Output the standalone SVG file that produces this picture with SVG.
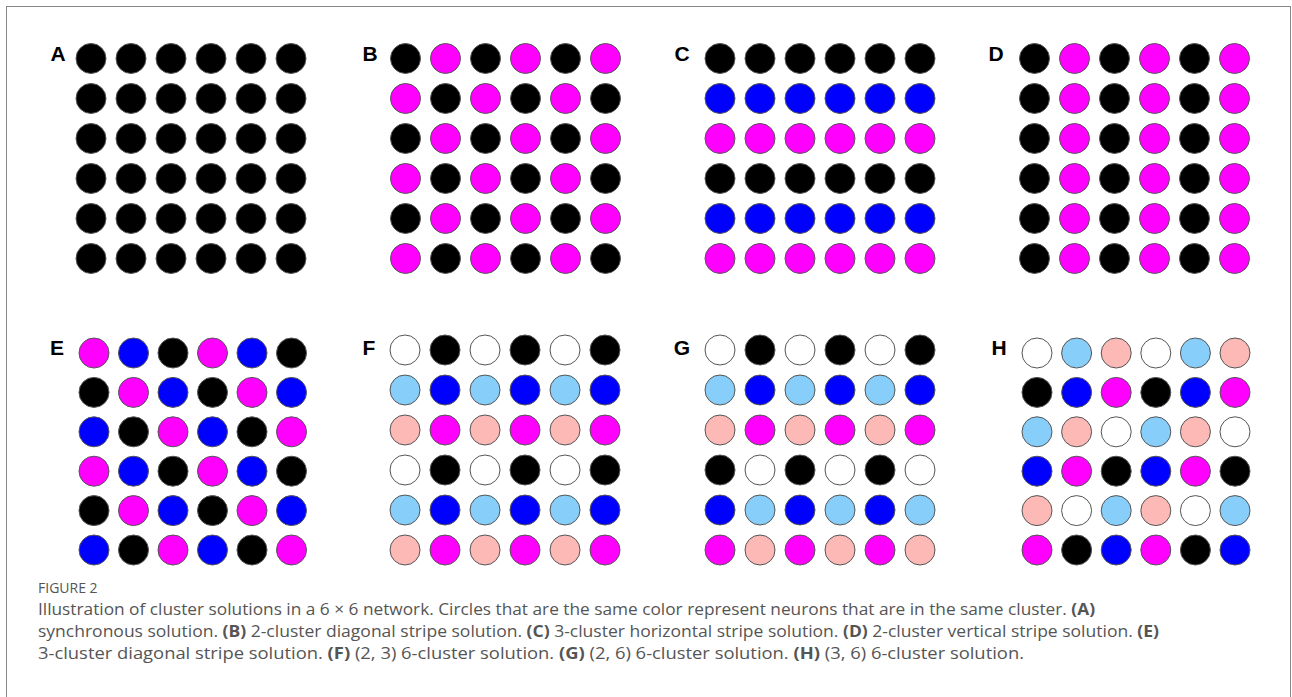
<svg xmlns="http://www.w3.org/2000/svg" width="1292" height="697" viewBox="0 0 1292 697">
<style>
circle{stroke:#555;stroke-width:1}
.k{fill:#000}.m{fill:#ff00ff}.b{fill:#0000ff}.l{fill:#87cefa}.p{fill:#fcb9b6}.w{fill:#fff}
.lab{font-family:"Liberation Sans",Arial,sans-serif;font-weight:bold;font-size:21px;fill:#000;text-anchor:middle}
.cap{font-family:"Open Sans","Liberation Sans",sans-serif;font-size:16px;fill:#555}
.fig{font-family:"Open Sans","Liberation Sans",sans-serif;font-size:14px;fill:#555}
.bd{font-weight:bold}
</style>
<rect x="0" y="0" width="1292" height="697" fill="#fff"/>
<rect x="6.5" y="6.5" width="1284" height="720" fill="none" stroke="#888" stroke-width="1"/>

<g id="panelA" transform="translate(91,58.5)">
<text class="lab" x="-33" y="0" dy="2">A</text>
<circle class="k" cx="0" cy="0" r="15"/><circle class="k" cx="40" cy="0" r="15"/><circle class="k" cx="80" cy="0" r="15"/><circle class="k" cx="120" cy="0" r="15"/><circle class="k" cx="160" cy="0" r="15"/><circle class="k" cx="200" cy="0" r="15"/>
<circle class="k" cx="0" cy="40" r="15"/><circle class="k" cx="40" cy="40" r="15"/><circle class="k" cx="80" cy="40" r="15"/><circle class="k" cx="120" cy="40" r="15"/><circle class="k" cx="160" cy="40" r="15"/><circle class="k" cx="200" cy="40" r="15"/>
<circle class="k" cx="0" cy="80" r="15"/><circle class="k" cx="40" cy="80" r="15"/><circle class="k" cx="80" cy="80" r="15"/><circle class="k" cx="120" cy="80" r="15"/><circle class="k" cx="160" cy="80" r="15"/><circle class="k" cx="200" cy="80" r="15"/>
<circle class="k" cx="0" cy="120" r="15"/><circle class="k" cx="40" cy="120" r="15"/><circle class="k" cx="80" cy="120" r="15"/><circle class="k" cx="120" cy="120" r="15"/><circle class="k" cx="160" cy="120" r="15"/><circle class="k" cx="200" cy="120" r="15"/>
<circle class="k" cx="0" cy="160" r="15"/><circle class="k" cx="40" cy="160" r="15"/><circle class="k" cx="80" cy="160" r="15"/><circle class="k" cx="120" cy="160" r="15"/><circle class="k" cx="160" cy="160" r="15"/><circle class="k" cx="200" cy="160" r="15"/>
<circle class="k" cx="0" cy="200" r="15"/><circle class="k" cx="40" cy="200" r="15"/><circle class="k" cx="80" cy="200" r="15"/><circle class="k" cx="120" cy="200" r="15"/><circle class="k" cx="160" cy="200" r="15"/><circle class="k" cx="200" cy="200" r="15"/>
</g>

<g id="panelB" transform="translate(405.5,58.5)">
<text class="lab" x="-35.5" y="0" dy="2">B</text>
<circle class="k" cx="0" cy="0" r="15"/><circle class="m" cx="40" cy="0" r="15"/><circle class="k" cx="80" cy="0" r="15"/><circle class="m" cx="120" cy="0" r="15"/><circle class="k" cx="160" cy="0" r="15"/><circle class="m" cx="200" cy="0" r="15"/>
<circle class="m" cx="0" cy="40" r="15"/><circle class="k" cx="40" cy="40" r="15"/><circle class="m" cx="80" cy="40" r="15"/><circle class="k" cx="120" cy="40" r="15"/><circle class="m" cx="160" cy="40" r="15"/><circle class="k" cx="200" cy="40" r="15"/>
<circle class="k" cx="0" cy="80" r="15"/><circle class="m" cx="40" cy="80" r="15"/><circle class="k" cx="80" cy="80" r="15"/><circle class="m" cx="120" cy="80" r="15"/><circle class="k" cx="160" cy="80" r="15"/><circle class="m" cx="200" cy="80" r="15"/>
<circle class="m" cx="0" cy="120" r="15"/><circle class="k" cx="40" cy="120" r="15"/><circle class="m" cx="80" cy="120" r="15"/><circle class="k" cx="120" cy="120" r="15"/><circle class="m" cx="160" cy="120" r="15"/><circle class="k" cx="200" cy="120" r="15"/>
<circle class="k" cx="0" cy="160" r="15"/><circle class="m" cx="40" cy="160" r="15"/><circle class="k" cx="80" cy="160" r="15"/><circle class="m" cx="120" cy="160" r="15"/><circle class="k" cx="160" cy="160" r="15"/><circle class="m" cx="200" cy="160" r="15"/>
<circle class="m" cx="0" cy="200" r="15"/><circle class="k" cx="40" cy="200" r="15"/><circle class="m" cx="80" cy="200" r="15"/><circle class="k" cx="120" cy="200" r="15"/><circle class="m" cx="160" cy="200" r="15"/><circle class="k" cx="200" cy="200" r="15"/>
</g>

<g id="panelC" transform="translate(720,58.5)">
<text class="lab" x="-38" y="0" dy="2">C</text>
<circle class="k" cx="0" cy="0" r="15"/><circle class="k" cx="40" cy="0" r="15"/><circle class="k" cx="80" cy="0" r="15"/><circle class="k" cx="120" cy="0" r="15"/><circle class="k" cx="160" cy="0" r="15"/><circle class="k" cx="200" cy="0" r="15"/>
<circle class="b" cx="0" cy="40" r="15"/><circle class="b" cx="40" cy="40" r="15"/><circle class="b" cx="80" cy="40" r="15"/><circle class="b" cx="120" cy="40" r="15"/><circle class="b" cx="160" cy="40" r="15"/><circle class="b" cx="200" cy="40" r="15"/>
<circle class="m" cx="0" cy="80" r="15"/><circle class="m" cx="40" cy="80" r="15"/><circle class="m" cx="80" cy="80" r="15"/><circle class="m" cx="120" cy="80" r="15"/><circle class="m" cx="160" cy="80" r="15"/><circle class="m" cx="200" cy="80" r="15"/>
<circle class="k" cx="0" cy="120" r="15"/><circle class="k" cx="40" cy="120" r="15"/><circle class="k" cx="80" cy="120" r="15"/><circle class="k" cx="120" cy="120" r="15"/><circle class="k" cx="160" cy="120" r="15"/><circle class="k" cx="200" cy="120" r="15"/>
<circle class="b" cx="0" cy="160" r="15"/><circle class="b" cx="40" cy="160" r="15"/><circle class="b" cx="80" cy="160" r="15"/><circle class="b" cx="120" cy="160" r="15"/><circle class="b" cx="160" cy="160" r="15"/><circle class="b" cx="200" cy="160" r="15"/>
<circle class="m" cx="0" cy="200" r="15"/><circle class="m" cx="40" cy="200" r="15"/><circle class="m" cx="80" cy="200" r="15"/><circle class="m" cx="120" cy="200" r="15"/><circle class="m" cx="160" cy="200" r="15"/><circle class="m" cx="200" cy="200" r="15"/>
</g>

<g id="panelD" transform="translate(1034.5,58.5)">
<text class="lab" x="-38.5" y="0" dy="2">D</text>
<circle class="k" cx="0" cy="0" r="15"/><circle class="m" cx="40" cy="0" r="15"/><circle class="k" cx="80" cy="0" r="15"/><circle class="m" cx="120" cy="0" r="15"/><circle class="k" cx="160" cy="0" r="15"/><circle class="m" cx="200" cy="0" r="15"/>
<circle class="k" cx="0" cy="40" r="15"/><circle class="m" cx="40" cy="40" r="15"/><circle class="k" cx="80" cy="40" r="15"/><circle class="m" cx="120" cy="40" r="15"/><circle class="k" cx="160" cy="40" r="15"/><circle class="m" cx="200" cy="40" r="15"/>
<circle class="k" cx="0" cy="80" r="15"/><circle class="m" cx="40" cy="80" r="15"/><circle class="k" cx="80" cy="80" r="15"/><circle class="m" cx="120" cy="80" r="15"/><circle class="k" cx="160" cy="80" r="15"/><circle class="m" cx="200" cy="80" r="15"/>
<circle class="k" cx="0" cy="120" r="15"/><circle class="m" cx="40" cy="120" r="15"/><circle class="k" cx="80" cy="120" r="15"/><circle class="m" cx="120" cy="120" r="15"/><circle class="k" cx="160" cy="120" r="15"/><circle class="m" cx="200" cy="120" r="15"/>
<circle class="k" cx="0" cy="160" r="15"/><circle class="m" cx="40" cy="160" r="15"/><circle class="k" cx="80" cy="160" r="15"/><circle class="m" cx="120" cy="160" r="15"/><circle class="k" cx="160" cy="160" r="15"/><circle class="m" cx="200" cy="160" r="15"/>
<circle class="k" cx="0" cy="200" r="15"/><circle class="m" cx="40" cy="200" r="15"/><circle class="k" cx="80" cy="200" r="15"/><circle class="m" cx="120" cy="200" r="15"/><circle class="k" cx="160" cy="200" r="15"/><circle class="m" cx="200" cy="200" r="15"/>
</g>

<g id="panelE" transform="translate(94,353)">
<text class="lab" x="-37" y="0" dy="2">E</text>
<circle class="m" cx="0" cy="0" r="15"/><circle class="b" cx="39.5" cy="0" r="15"/><circle class="k" cx="79" cy="0" r="15"/><circle class="m" cx="118.5" cy="0" r="15"/><circle class="b" cx="158" cy="0" r="15"/><circle class="k" cx="197.5" cy="0" r="15"/>
<circle class="k" cx="0" cy="39.4" r="15"/><circle class="m" cx="39.5" cy="39.4" r="15"/><circle class="b" cx="79" cy="39.4" r="15"/><circle class="k" cx="118.5" cy="39.4" r="15"/><circle class="m" cx="158" cy="39.4" r="15"/><circle class="b" cx="197.5" cy="39.4" r="15"/>
<circle class="b" cx="0" cy="78.8" r="15"/><circle class="k" cx="39.5" cy="78.8" r="15"/><circle class="m" cx="79" cy="78.8" r="15"/><circle class="b" cx="118.5" cy="78.8" r="15"/><circle class="k" cx="158" cy="78.8" r="15"/><circle class="m" cx="197.5" cy="78.8" r="15"/>
<circle class="m" cx="0" cy="118.2" r="15"/><circle class="b" cx="39.5" cy="118.2" r="15"/><circle class="k" cx="79" cy="118.2" r="15"/><circle class="m" cx="118.5" cy="118.2" r="15"/><circle class="b" cx="158" cy="118.2" r="15"/><circle class="k" cx="197.5" cy="118.2" r="15"/>
<circle class="k" cx="0" cy="157.6" r="15"/><circle class="m" cx="39.5" cy="157.6" r="15"/><circle class="b" cx="79" cy="157.6" r="15"/><circle class="k" cx="118.5" cy="157.6" r="15"/><circle class="m" cx="158" cy="157.6" r="15"/><circle class="b" cx="197.5" cy="157.6" r="15"/>
<circle class="b" cx="0" cy="197" r="15"/><circle class="k" cx="39.5" cy="197" r="15"/><circle class="m" cx="79" cy="197" r="15"/><circle class="b" cx="118.5" cy="197" r="15"/><circle class="k" cx="158" cy="197" r="15"/><circle class="m" cx="197.5" cy="197" r="15"/>
</g>

<g id="panelF" transform="translate(405,350)">
<text class="lab" x="-36" y="0" dy="5">F</text>
<circle class="w" cx="0" cy="0" r="15"/><circle class="k" cx="40" cy="0" r="15"/><circle class="w" cx="80" cy="0" r="15"/><circle class="k" cx="120" cy="0" r="15"/><circle class="w" cx="160" cy="0" r="15"/><circle class="k" cx="200" cy="0" r="15"/>
<circle class="l" cx="0" cy="40" r="15"/><circle class="b" cx="40" cy="40" r="15"/><circle class="l" cx="80" cy="40" r="15"/><circle class="b" cx="120" cy="40" r="15"/><circle class="l" cx="160" cy="40" r="15"/><circle class="b" cx="200" cy="40" r="15"/>
<circle class="p" cx="0" cy="80" r="15"/><circle class="m" cx="40" cy="80" r="15"/><circle class="p" cx="80" cy="80" r="15"/><circle class="m" cx="120" cy="80" r="15"/><circle class="p" cx="160" cy="80" r="15"/><circle class="m" cx="200" cy="80" r="15"/>
<circle class="w" cx="0" cy="120" r="15"/><circle class="k" cx="40" cy="120" r="15"/><circle class="w" cx="80" cy="120" r="15"/><circle class="k" cx="120" cy="120" r="15"/><circle class="w" cx="160" cy="120" r="15"/><circle class="k" cx="200" cy="120" r="15"/>
<circle class="l" cx="0" cy="160" r="15"/><circle class="b" cx="40" cy="160" r="15"/><circle class="l" cx="80" cy="160" r="15"/><circle class="b" cx="120" cy="160" r="15"/><circle class="l" cx="160" cy="160" r="15"/><circle class="b" cx="200" cy="160" r="15"/>
<circle class="p" cx="0" cy="200" r="15"/><circle class="m" cx="40" cy="200" r="15"/><circle class="p" cx="80" cy="200" r="15"/><circle class="m" cx="120" cy="200" r="15"/><circle class="p" cx="160" cy="200" r="15"/><circle class="m" cx="200" cy="200" r="15"/>
</g>

<g id="panelG" transform="translate(720,350)">
<text class="lab" x="-38" y="0" dy="5">G</text>
<circle class="w" cx="0" cy="0" r="15"/><circle class="k" cx="40" cy="0" r="15"/><circle class="w" cx="80" cy="0" r="15"/><circle class="k" cx="120" cy="0" r="15"/><circle class="w" cx="160" cy="0" r="15"/><circle class="k" cx="200" cy="0" r="15"/>
<circle class="l" cx="0" cy="40" r="15"/><circle class="b" cx="40" cy="40" r="15"/><circle class="l" cx="80" cy="40" r="15"/><circle class="b" cx="120" cy="40" r="15"/><circle class="l" cx="160" cy="40" r="15"/><circle class="b" cx="200" cy="40" r="15"/>
<circle class="p" cx="0" cy="80" r="15"/><circle class="m" cx="40" cy="80" r="15"/><circle class="p" cx="80" cy="80" r="15"/><circle class="m" cx="120" cy="80" r="15"/><circle class="p" cx="160" cy="80" r="15"/><circle class="m" cx="200" cy="80" r="15"/>
<circle class="k" cx="0" cy="120" r="15"/><circle class="w" cx="40" cy="120" r="15"/><circle class="k" cx="80" cy="120" r="15"/><circle class="w" cx="120" cy="120" r="15"/><circle class="k" cx="160" cy="120" r="15"/><circle class="w" cx="200" cy="120" r="15"/>
<circle class="b" cx="0" cy="160" r="15"/><circle class="l" cx="40" cy="160" r="15"/><circle class="b" cx="80" cy="160" r="15"/><circle class="l" cx="120" cy="160" r="15"/><circle class="b" cx="160" cy="160" r="15"/><circle class="l" cx="200" cy="160" r="15"/>
<circle class="m" cx="0" cy="200" r="15"/><circle class="p" cx="40" cy="200" r="15"/><circle class="m" cx="80" cy="200" r="15"/><circle class="p" cx="120" cy="200" r="15"/><circle class="m" cx="160" cy="200" r="15"/><circle class="p" cx="200" cy="200" r="15"/>
</g>

<g id="panelH" transform="translate(1037,353)">
<text class="lab" x="-38" y="0" dy="2">H</text>
<circle class="w" cx="0" cy="0" r="15"/><circle class="l" cx="39.6" cy="0" r="15"/><circle class="p" cx="79.2" cy="0" r="15"/><circle class="w" cx="118.8" cy="0" r="15"/><circle class="l" cx="158.4" cy="0" r="15"/><circle class="p" cx="198" cy="0" r="15"/>
<circle class="k" cx="0" cy="39.4" r="15"/><circle class="b" cx="39.6" cy="39.4" r="15"/><circle class="m" cx="79.2" cy="39.4" r="15"/><circle class="k" cx="118.8" cy="39.4" r="15"/><circle class="b" cx="158.4" cy="39.4" r="15"/><circle class="m" cx="198" cy="39.4" r="15"/>
<circle class="l" cx="0" cy="78.8" r="15"/><circle class="p" cx="39.6" cy="78.8" r="15"/><circle class="w" cx="79.2" cy="78.8" r="15"/><circle class="l" cx="118.8" cy="78.8" r="15"/><circle class="p" cx="158.4" cy="78.8" r="15"/><circle class="w" cx="198" cy="78.8" r="15"/>
<circle class="b" cx="0" cy="118.2" r="15"/><circle class="m" cx="39.6" cy="118.2" r="15"/><circle class="k" cx="79.2" cy="118.2" r="15"/><circle class="b" cx="118.8" cy="118.2" r="15"/><circle class="m" cx="158.4" cy="118.2" r="15"/><circle class="k" cx="198" cy="118.2" r="15"/>
<circle class="p" cx="0" cy="157.6" r="15"/><circle class="w" cx="39.6" cy="157.6" r="15"/><circle class="l" cx="79.2" cy="157.6" r="15"/><circle class="p" cx="118.8" cy="157.6" r="15"/><circle class="w" cx="158.4" cy="157.6" r="15"/><circle class="l" cx="198" cy="157.6" r="15"/>
<circle class="m" cx="0" cy="197" r="15"/><circle class="k" cx="39.6" cy="197" r="15"/><circle class="b" cx="79.2" cy="197" r="15"/><circle class="m" cx="118.8" cy="197" r="15"/><circle class="k" cx="158.4" cy="197" r="15"/><circle class="b" cx="198" cy="197" r="15"/>
</g>

<g id="caption">
<text class="fig" x="38" y="593">FIGURE 2</text>
<text class="cap" x="38" y="615" textLength="1057" lengthAdjust="spacingAndGlyphs">Illustration of cluster solutions in a 6 × 6 network. Circles that are the same color represent neurons that are in the same cluster. <tspan class="bd">(A)</tspan></text>
<text class="cap" x="38" y="637" textLength="1121" lengthAdjust="spacingAndGlyphs">synchronous solution. <tspan class="bd">(B)</tspan> 2-cluster diagonal stripe solution. <tspan class="bd">(C)</tspan> 3-cluster horizontal stripe solution. <tspan class="bd">(D)</tspan> 2-cluster vertical stripe solution. <tspan class="bd">(E)</tspan></text>
<text class="cap" x="38" y="659" textLength="986" lengthAdjust="spacingAndGlyphs">3-cluster diagonal stripe solution. <tspan class="bd">(F)</tspan> (2, 3) 6-cluster solution. <tspan class="bd">(G)</tspan> (2, 6) 6-cluster solution. <tspan class="bd">(H)</tspan> (3, 6) 6-cluster solution.</text>
</g>
</svg>
